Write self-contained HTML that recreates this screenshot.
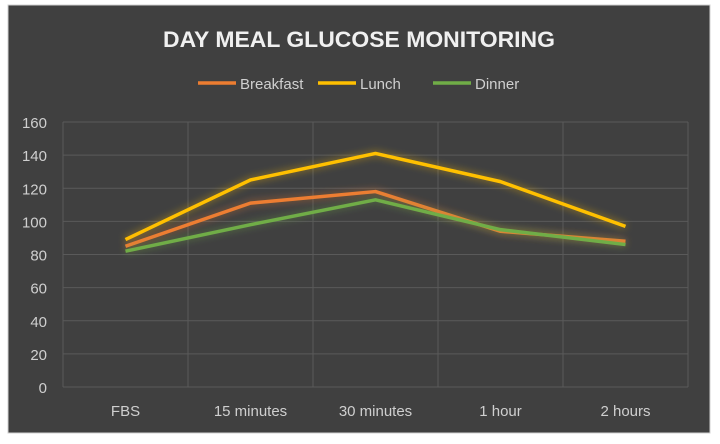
<!DOCTYPE html>
<html><head><meta charset="utf-8"><style>
html,body{margin:0;padding:0;background:#fff;}
svg text{font-family:"Liberation Sans",sans-serif;}
</style></head><body>
<svg id="chart" width="720" height="439" xmlns="http://www.w3.org/2000/svg">
<defs>
<filter id="glow" x="-20%" y="-50%" width="140%" height="200%">
<feGaussianBlur in="SourceGraphic" stdDeviation="4" result="b"/>
<feComponentTransfer in="b" result="b2"><feFuncA type="linear" slope="0.6"/></feComponentTransfer>
<feMerge><feMergeNode in="b2"/><feMergeNode in="SourceGraphic"/></feMerge>
</filter>
</defs>
<rect x="8" y="5" width="702" height="428" fill="#404040" stroke="#d0d0d0" stroke-width="1"/>
<text x="163" y="47" textLength="392" lengthAdjust="spacingAndGlyphs" font-size="22" font-weight="bold" fill="#f0f0f0">DAY MEAL GLUCOSE MONITORING</text>
<g id="legend"></g>
<g id="grid"></g>
<g id="axes"></g>
<g id="series"></g>
</svg>
<script>
const categories = ["FBS","15 minutes","30 minutes","1 hour","2 hours"];
const breakfast = [85, 111, 118, 94, 88];
const lunch = [89, 125, 141, 124, 97];
const dinner = [82, 98, 113, 95, 86];
const yTicks = [0,20,40,60,80,100,120,140,160];
const seriesNames = ["Breakfast","Lunch","Dinner"];
const NS="http://www.w3.org/2000/svg";
const L=63,R=688,T=122,B=387,yMax=160;
const bw=(R-L)/categories.length;
const xs=i=>L+bw*(i+0.5);
const ys=v=>B-(v/yMax)*(B-T);
function mk(t,a,p){const e=document.createElementNS(NS,t);for(const k in a)e.setAttribute(k,a[k]);p.appendChild(e);return e;}
const grid=document.getElementById('grid'),axes=document.getElementById('axes'),ser=document.getElementById('series'),leg=document.getElementById('legend');
yTicks.forEach(v=>{
 const l=mk('line',{x1:L,x2:R,y1:ys(v),y2:ys(v),stroke:'#5a5a5a','stroke-width':1},grid);
 
 
 const t=mk('text',{x:47,y:ys(v)+6,'text-anchor':'end','font-size':15,fill:'#cfcfcf'},axes);
 t.textContent=v;
 
 
});
for(let i=0;i<=categories.length;i++){
 const l=mk('line',{x1:L+bw*i,x2:L+bw*i,y1:T,y2:B,stroke:'#5a5a5a','stroke-width':1},grid);
 
 
}
categories.forEach((c,i)=>{
 const t=mk('text',{x:xs(i),y:416,'text-anchor':'middle','font-size':15,fill:'#cfcfcf'},axes);
 t.textContent=c;
 
 
});
const colors=["#ed7d31","#ffc000","#70ad47"];
const data=[breakfast,lunch,dinner];
[1,0,2].forEach(k=>{
 const pts=data[k].map((v,i)=>xs(i)+','+ys(v)).join(' ');
 const p=mk('polyline',{points:pts,fill:'none',stroke:colors[k],'stroke-width':3.5,'stroke-linejoin':'round',filter:'url(#glow)'},ser);
 
 
});
const lx=[198,318,433];
seriesNames.forEach((n,k)=>{
 const g=mk('g',{},leg);
 
 
 mk('line',{x1:lx[k],x2:lx[k]+38,y1:83,y2:83,stroke:colors[k],'stroke-width':3.5},g);
 const t=mk('text',{x:lx[k]+42,y:89,'font-size':15,fill:'#cfcfcf'},g);
 t.textContent=n;
});
</script>
</body></html>
